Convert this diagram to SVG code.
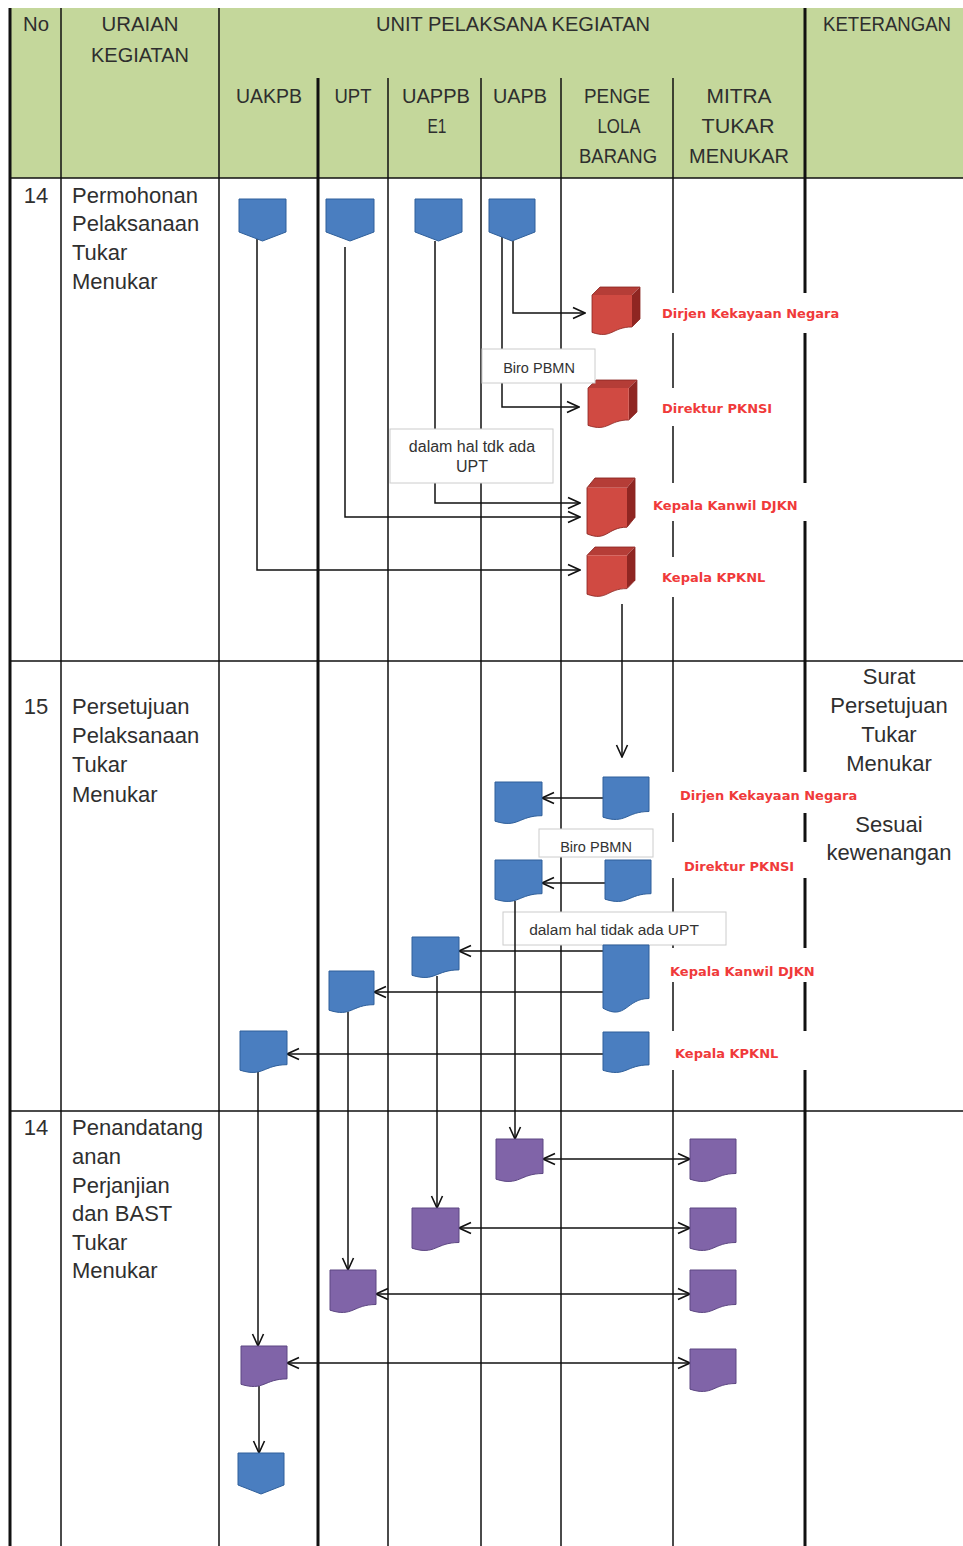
<svg xmlns="http://www.w3.org/2000/svg" width="963" height="1546" viewBox="0 0 963 1546">
<defs>
<style>
.hd{font-family:"Liberation Sans",Arial,sans-serif;font-size:19.5px;fill:#2e2e2e;text-anchor:middle}
.bd{font-family:"Liberation Sans",Arial,sans-serif;font-size:22px;fill:#2f2f2f}
.no{font-family:"Liberation Sans",Arial,sans-serif;font-size:22px;fill:#2f2f2f;text-anchor:middle}
.kt{font-family:"Liberation Sans",Arial,sans-serif;font-size:22px;fill:#2f2f2f;text-anchor:middle}
.rl{font-family:"DejaVu Sans",Verdana,sans-serif;font-size:13px;font-weight:bold;fill:#f03a3a}
.nt{font-family:"Liberation Sans",Arial,sans-serif;font-size:14.5px;fill:#333;text-anchor:middle}
.g{stroke:#111;stroke-width:1.5;fill:none}
.gt{stroke:#111;stroke-width:3;fill:none}
.c{stroke:#111;stroke-width:1.5;fill:none;marker-end:url(#arr)}
.cd{stroke:#111;stroke-width:1.5;fill:none;marker-end:url(#arr);marker-start:url(#arr)}
.blue{fill:#4a7ec0;stroke:#2f5f9a;stroke-width:1}
.pur{fill:#8064a8;stroke:#5c4682;stroke-width:1}
.box{fill:#fff;stroke:#cccccc;stroke-width:1}
.bg{fill:#fff}
</style>
<marker id="arr" viewBox="0 0 14 14" refX="13" refY="7" markerWidth="14" markerHeight="14" markerUnits="userSpaceOnUse" orient="auto-start-reverse">
<path d="M1,1.5 L13,7 L1,12.5" fill="none" stroke="#111" stroke-width="1.6"/>
</marker>
<g id="cube">
<path d="M0,8 L8,0 H48 L40,8 Z" fill="#b53d37"/>
<path d="M40,8 L48,0 V32 L40,40 Z" fill="#8f2622"/>
<path d="M0,8 H40 V40 C20,40 20,52.3 0,45.4 Z" fill="#d04a42"/>
<path d="M0,8 L8,0 H48 V32 L40,40 C20,40 20,52.3 0,45.4 Z" fill="none" stroke="#8a2420" stroke-width="0.8"/>
</g>
</defs>

<rect x="0" y="0" width="963" height="1546" fill="#fff"/>

<g id="table">
<rect x="10" y="8" width="953" height="170" fill="#c4d79b"/>
<path class="g" d="M61,8 V1546 M219,8 V1546 M388,78 V1546 M481,78 V1546 M561,78 V1546 M673,78 V1546"/>
<path class="gt" d="M10,8 V1546 M318,78 V1546 M805,8 V1546"/>
<path class="g" d="M10,178 H963 M10,661 H963 M10,1111 H963"/>
</g>

<g id="header">
<text class="hd" x="36" y="31" textLength="26" lengthAdjust="spacingAndGlyphs">No</text>
<text class="hd" x="140" y="31" textLength="77" lengthAdjust="spacingAndGlyphs">URAIAN</text>
<text class="hd" x="140" y="62" textLength="98" lengthAdjust="spacingAndGlyphs">KEGIATAN</text>
<text class="hd" x="513" y="31" textLength="274" lengthAdjust="spacingAndGlyphs">UNIT PELAKSANA KEGIATAN</text>
<text class="hd" x="887" y="31" textLength="128" lengthAdjust="spacingAndGlyphs">KETERANGAN</text>
<text class="hd" x="269" y="103" textLength="66" lengthAdjust="spacingAndGlyphs">UAKPB</text>
<text class="hd" x="353" y="103" textLength="37" lengthAdjust="spacingAndGlyphs">UPT</text>
<text class="hd" x="436" y="103" textLength="68" lengthAdjust="spacingAndGlyphs">UAPPB</text>
<text class="hd" x="437" y="133" textLength="19" lengthAdjust="spacingAndGlyphs">E1</text>
<text class="hd" x="520" y="103" textLength="54" lengthAdjust="spacingAndGlyphs">UAPB</text>
<text class="hd" x="617" y="103" textLength="66" lengthAdjust="spacingAndGlyphs">PENGE</text>
<text class="hd" x="619" y="133" textLength="43" lengthAdjust="spacingAndGlyphs">LOLA</text>
<text class="hd" x="618" y="163" textLength="78" lengthAdjust="spacingAndGlyphs">BARANG</text>
<text class="hd" x="739" y="103" textLength="65" lengthAdjust="spacingAndGlyphs">MITRA</text>
<text class="hd" x="738" y="133" textLength="73" lengthAdjust="spacingAndGlyphs">TUKAR</text>
<text class="hd" x="739" y="163" textLength="100" lengthAdjust="spacingAndGlyphs">MENUKAR</text>
</g>

<g id="row-texts">
<text class="no" x="36" y="203">14</text>
<text class="bd" x="72" y="203">Permohonan</text>
<text class="bd" x="72" y="231">Pelaksanaan</text>
<text class="bd" x="72" y="260">Tukar</text>
<text class="bd" x="72" y="289">Menukar</text>
<text class="no" x="36" y="714">15</text>
<text class="bd" x="72" y="714">Persetujuan</text>
<text class="bd" x="72" y="743">Pelaksanaan</text>
<text class="bd" x="72" y="772">Tukar</text>
<text class="bd" x="72" y="802">Menukar</text>
<text class="no" x="36" y="1135">14</text>
<text class="bd" x="72" y="1135">Penandatang</text>
<text class="bd" x="72" y="1164">anan</text>
<text class="bd" x="72" y="1193">Perjanjian</text>
<text class="bd" x="72" y="1221">dan BAST</text>
<text class="bd" x="72" y="1250">Tukar</text>
<text class="bd" x="72" y="1278">Menukar</text>
<text class="kt" x="889" y="684">Surat</text>
<text class="kt" x="889" y="713">Persetujuan</text>
<text class="kt" x="889" y="742">Tukar</text>
<text class="kt" x="889" y="771">Menukar</text>
<text class="kt" x="889" y="832">Sesuai</text>
<text class="kt" x="889" y="860">kewenangan</text>
</g>

<g id="labels">
<rect class="bg" x="650" y="293" width="202" height="40"/>
<text class="rl" x="662" y="318">Dirjen Kekayaan Negara</text>
<rect class="bg" x="650" y="388" width="140" height="38"/>
<text class="rl" x="662" y="413">Direktur PKNSI</text>
<rect class="bg" x="645" y="483" width="170" height="38"/>
<text class="rl" x="653" y="510">Kepala Kanwil DJKN</text>
<rect class="bg" x="650" y="557" width="140" height="40"/>
<text class="rl" x="662" y="582">Kepala KPKNL</text>
<rect class="bg" x="668" y="772" width="198" height="41"/>
<text class="rl" x="680" y="800">Dirjen Kekayaan Negara</text>
<rect class="bg" x="668" y="842" width="145" height="36"/>
<text class="rl" x="684" y="871">Direktur PKNSI</text>
<rect class="bg" x="660" y="948" width="170" height="34"/>
<text class="rl" x="670" y="976">Kepala Kanwil DJKN</text>
<rect class="bg" x="662" y="1031" width="160" height="39"/>
<text class="rl" x="675" y="1058">Kepala KPKNL</text>
</g>

<g id="note-tidak-ada-upt-2">
<rect class="box" x="503" y="912" width="223" height="33"/>
<text class="nt" x="614" y="935" style="font-size:15.5px">dalam hal tidak ada UPT</text>
</g>

<g id="connectors">
<path class="c" d="M257,239 V570 H580"/>
<path class="c" d="M345,247 V517 H580"/>
<path class="c" d="M435,241 V503 H580"/>
<path class="c" d="M513,241 V313 H585"/>
<path class="c" d="M502,237 V407 H579"/>
<path class="c" d="M622,604 V757"/>
<path class="c" d="M603,798 H542"/>
<path class="c" d="M605,883 H542"/>
<path class="c" d="M603,951 H459"/>
<path class="c" d="M603,992 H374"/>
<path class="c" d="M603,1054 H287"/>
<path class="c" d="M515,901 V1139"/>
<path class="c" d="M437,976 V1208"/>
<path class="c" d="M348,1012 V1270"/>
<path class="c" d="M258,1072 V1346"/>
<path class="cd" d="M543,1159 H690"/>
<path class="cd" d="M459,1228 H690"/>
<path class="cd" d="M376,1294 H690"/>
<path class="cd" d="M287,1363 H690"/>
<path class="c" d="M259,1386 V1453"/>
</g>

<g id="start-uakpb"><path class="blue" d="M239,199 H286 V232 L262.5,241 L239,232 Z"/></g>
<g id="start-upt"><path class="blue" d="M326,199 H374 V232 L350,241 L326,232 Z"/></g>
<g id="start-uappbe1"><path class="blue" d="M415,199 H462 V232 L438.5,241 L415,232 Z"/></g>
<g id="start-uapb"><path class="blue" d="M489,199 H535 V232 L512,241 L489,232 Z"/></g>

<g id="cube-dirjen"><use href="#cube" transform="translate(592,287)"/></g>
<g id="cube-direktur"><use href="#cube" transform="translate(588,380) scale(1.02,1)"/></g>
<g id="cube-kanwil"><use href="#cube" transform="translate(587,478) scale(1,1.23)"/></g>
<g id="cube-kpknl"><use href="#cube" transform="translate(587,547) scale(1,1.04)"/></g>

<g id="doc-dirjen"><path class="blue" d="M603,777 H649 V811.5 C626,811.5 626,824.6 603,817.2 Z"/></g>
<g id="doc-uapb-1"><path class="blue" d="M495,782 H542 V815.7 C518.5,815.7 518.5,828.5 495,821.2 Z"/></g>
<g id="doc-direktur"><path class="blue" d="M605,860 H651 V893.7 C628,893.7 628,906.5 605,899.2 Z"/></g>
<g id="doc-uapb-2"><path class="blue" d="M495,860 H542 V893.7 C518.5,893.7 518.5,906.5 495,899.2 Z"/></g>
<g id="doc-kanwil"><path class="blue" d="M603,945 H649 V998.5 C626,998.5 626,1020.9 603,1008.2 Z"/></g>
<g id="doc-uappbe1"><path class="blue" d="M412,937 H459 V969.9 C435.5,969.9 435.5,982.4 412,975.3 Z"/></g>
<g id="doc-upt"><path class="blue" d="M329,971 H374 V1004.7 C351.5,1004.7 351.5,1017.5 329,1010.2 Z"/></g>
<g id="doc-kpknl"><path class="blue" d="M603,1032 H649 V1064.9 C626,1064.9 626,1077.4 603,1070.3 Z"/></g>
<g id="doc-uakpb"><path class="blue" d="M240,1031 H287 V1064.7 C263.5,1064.7 263.5,1077.5 240,1070.2 Z"/></g>

<g id="sign-uapb"><path class="pur" d="M496,1139 H543 V1173.5 C519.5,1173.5 519.5,1186.6 496,1179.2 Z"/></g>
<g id="mitra-1"><path class="pur" d="M690,1139 H736 V1173.5 C713,1173.5 713,1186.6 690,1179.2 Z"/></g>
<g id="sign-uappbe1"><path class="pur" d="M412,1208 H459 V1242.5 C435.5,1242.5 435.5,1255.6 412,1248.2 Z"/></g>
<g id="mitra-2"><path class="pur" d="M690,1208 H736 V1242.5 C713,1242.5 713,1255.6 690,1248.2 Z"/></g>
<g id="sign-upt"><path class="pur" d="M330,1270 H376 V1304.5 C353,1304.5 353,1317.6 330,1310.2 Z"/></g>
<g id="mitra-3"><path class="pur" d="M690,1270 H736 V1304.5 C713,1304.5 713,1317.6 690,1310.2 Z"/></g>
<g id="sign-uakpb"><path class="pur" d="M241,1346 H287 V1378.9 C264,1378.9 264,1391.4 241,1384.3 Z"/></g>
<g id="mitra-4"><path class="pur" d="M690,1349 H736 V1383.5 C713,1383.5 713,1396.6 690,1389.2 Z"/></g>

<g id="end-uakpb"><path class="blue" d="M238,1453 H284 V1485 L261,1494 L238,1485 Z"/></g>

<g id="note-biro-1">
<rect class="box" x="482" y="349" width="113" height="34"/>
<text class="nt" x="539" y="373">Biro PBMN</text>
</g>
<g id="note-tdk-ada-upt-1">
<rect class="box" x="390" y="429" width="163" height="54"/>
<text class="nt" x="472" y="452" style="font-size:16px">dalam hal tdk ada</text>
<text class="nt" x="472" y="472" style="font-size:16px">UPT</text>
</g>
<g id="note-biro-2">
<rect class="box" x="539" y="829" width="114" height="28"/>
<text class="nt" x="596" y="852">Biro PBMN</text>
</g>
</svg>
